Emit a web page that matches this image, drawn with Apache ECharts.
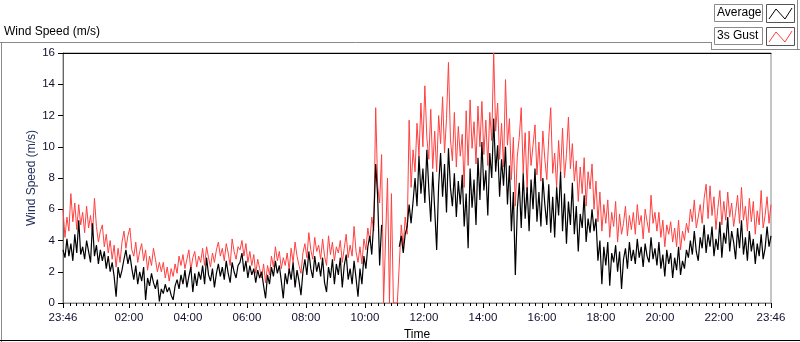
<!DOCTYPE html>
<html>
<head>
<meta charset="utf-8">
<script src="https://cdn.jsdelivr.net/npm/echarts@6/dist/echarts.min.js"></script>
<style>
  html, body { margin: 0; padding: 0; background: #fff; }
  #chart { width: 800px; height: 342px; }
</style>
</head>
<body>
<div id="chart"></div>
<script>
// samples every 4 minutes, starting at 23:46 the previous day (-14 min)
const startMin = -14;
const stepMin = 4;
const seriesNames = ['Average', '3s Gust'];

const average = [
    3.4, 2.9, 4.1, 3.0, 3.8, 2.7, 4.4, 3.2, 5.3, 3.1,
    3.6, 2.8, 4.0, 3.3, 2.6, 5.1, 3.0, 3.7, 2.5, 3.4,
    2.7, 3.3, 2.2, 3.0, 2.0, 2.6, 1.7, 0.4, 2.3, 1.6,
    2.1, 2.8, 3.4, 2.5, 3.1, 2.2, 1.5, 2.4, 1.2, 2.0,
    1.4, 2.3, 0.2, 1.6, 1.1, 1.9, 1.3, 0.9, 1.5, 0.1,
    0.9, 0.6, 1.2, 0.7, 1.0, 0.5, 0.2, 1.1, 1.5, 0.9,
    1.8, 1.2, 2.1, 1.0, 1.7, 2.3, 0.7, 1.9, 1.1, 2.0,
    1.5, 2.4, 1.2, 2.9, 1.8, 1.4, 2.2, 1.0, 1.9, 2.5,
    1.7, 2.3, 1.5, 2.7, 1.9, 1.3, 2.6, 2.0, 1.6, 2.4,
    2.6, 3.2, 2.0, 2.7, 1.6, 2.4, 1.8, 2.2, 1.3, 2.1,
    1.6, 2.0, 1.1, 0.3, 1.8, 1.2, 2.3, 1.7, 2.7, 1.9,
    2.4, 1.4, 0.3, 1.9, 1.2, 2.2, 1.5, 2.6, 1.0, 2.1,
    1.4, 0.5, 2.0, 2.8, 1.8, 3.3, 2.2, 1.6, 3.0, 2.0,
    2.6, 1.7, 2.9, 1.3, 0.7, 2.3, 1.6, 2.8, 1.2, 2.5,
    1.8, 2.9, 1.0, 2.4, 3.1, 1.5, 2.2, 1.2, 2.7, 1.6,
    0.4, 2.2, 1.2, 3.0, 2.2, 3.6, 4.3, 3.1, 5.2, 8.9,
    6.8, 2.4, 5.0, null, null, null, null, null, null, null,
    null, 3.6, 4.3, 3.2, 4.4, 4.9, 6.3, 5.1, 6.5, 8.0,
    6.2, 9.4, 7.0, 8.6, 6.4, 9.8, 7.3, 5.2, 8.4, 6.0,
    3.4, 7.5, 9.6, 6.8, 8.9, 5.8, 9.9, 7.4, 6.2, 8.3,
    5.5, 7.8, 6.3, 8.2, 4.9, 7.0, 3.5, 8.6, 6.1, 7.9,
    5.0, 9.3, 6.6, 10.3, 7.2, 8.5, 5.6, 9.6, 8.0, 11.8,
    8.4, 10.1, 6.8, 9.2, 7.5, 10.0, 6.3, 8.8, 4.6, 7.1,
    1.8, 6.0, 7.7, 4.8, 8.3, 5.4, 7.4, 4.6, 7.9, 6.0,
    8.6, 5.2, 7.1, 4.9, 8.0, 6.3, 5.0, 7.6, 4.5, 6.8,
    4.2, 7.4, 5.6, 8.4, 4.6, 7.0, 3.8, 6.5, 5.0, 7.7,
    4.4, 6.2, 3.3, 5.7, 4.8, 6.9, 3.9, 5.4, 4.5, 6.0,
    4.6, 5.4, 2.7, 4.0, 1.2, 3.6, 2.4, 3.9, 1.1, 3.2,
    2.6, 3.7, 2.0, 3.3, 0.9, 2.8, 3.5, 2.2, 3.9, 2.7,
    3.4, 2.5, 4.1, 2.9, 3.6, 2.3, 3.8, 3.0, 2.6, 4.2,
    2.8, 3.5, 2.4, 3.9, 2.2, 3.1, 1.7, 3.4, 2.5, 3.2,
    1.6, 2.9, 2.1, 3.6, 1.8, 2.7, 2.2, 3.4, 2.9, 4.0,
    3.1, 4.6, 3.3, 2.7, 4.2, 3.5, 5.0, 3.2, 4.4, 3.6,
    4.9, 3.0, 4.1, 3.4, 5.2, 2.9, 4.5, 3.8, 5.5, 3.3,
    4.6, 3.9, 2.8, 4.8, 3.5, 5.3, 3.1, 4.2, 2.7, 4.6,
    3.3, 4.1, 2.5, 3.8, 3.0, 4.4, 2.8, 3.5, 4.9, 3.6, 4.3
];

const gust = [
    6.0, 4.2, 5.5, 4.6, 7.0, 5.2, 6.4, 4.7, 6.3, 5.0,
    5.8, 4.5, 6.2, 4.8, 5.6, 4.4, 6.7, 4.9, 3.9, 4.6,
    5.0, 3.6, 4.4, 3.2, 4.0, 2.8, 3.7, 2.3, 3.5, 2.6,
    3.9, 4.6, 3.5, 4.3, 4.8, 3.4, 3.0, 3.9, 2.6, 3.3,
    3.8, 2.7, 3.4, 2.1, 3.0, 2.4, 3.5, 2.8, 2.0, 2.6,
    2.0, 2.6, 1.6, 2.3, 1.4, 2.2, 1.7, 2.5, 1.9, 3.0,
    2.4, 3.1, 2.2, 2.8, 3.4, 2.1, 2.9, 3.3, 2.3, 3.0,
    2.6, 3.5, 2.4, 3.6, 2.9, 2.3, 3.2, 2.6, 3.4, 3.9,
    3.0, 3.5, 2.7, 3.8, 3.2, 2.4, 4.1, 3.3, 2.8, 3.6,
    3.4, 4.0, 3.0, 3.8, 2.6, 3.3, 2.4, 3.1, 1.9, 2.8,
    2.2, 1.6, 2.5, 1.3, 2.4, 1.8, 3.0, 2.3, 3.6, 2.7,
    3.3, 2.2, 2.9, 2.4, 3.2, 2.1, 3.5, 2.6, 3.9, 3.0,
    2.4, 1.9, 3.2, 3.8, 2.9, 4.5, 3.4, 2.8, 4.2, 3.3,
    3.7, 2.8, 4.1, 3.0, 2.4, 4.3, 3.1, 3.9, 2.7, 3.6,
    3.2, 4.0, 2.6, 3.5, 4.4, 2.9, 3.7, 3.0, 4.9, 3.3,
    2.6, 3.6, 2.5, 4.1, 3.4, 4.8, 3.9, 5.5, 4.6, 12.5,
    7.5, 6.4, 9.5, 0, 0, 8.0, 0, 7.0, 0, 0,
    0, 0, 5.0, 3.6, 5.5, 4.4, 11.7, 7.4, 9.8, 8.4,
    11.5, 9.4, 12.8, 10.0, 13.9, 10.6, 9.2, 12.4, 8.6, 11.0,
    8.4, 12.0, 10.2, 13.2, 9.6, 11.8, 15.4, 10.5, 9.1, 12.2,
    8.7, 11.3, 9.4, 10.8, 7.4, 12.3, 8.8, 13.0, 9.9, 11.6,
    8.9, 12.6, 10.0, 12.9, 9.5, 11.7, 8.8, 12.2, 10.4, 16.0,
    11.0, 12.8, 9.2, 11.5, 8.7, 14.3, 10.1, 11.8, 7.9, 10.6,
    6.2, 9.4, 10.6, 12.5, 8.3, 10.9, 7.2, 11.0, 8.8, 10.1,
    11.4, 8.2, 10.3, 7.8, 11.0, 9.2, 7.9, 10.6, 12.5, 8.3,
    9.6, 7.4, 10.4, 8.3, 11.2, 8.0, 9.5, 11.9, 8.6, 10.2,
    7.8, 9.1, 6.5, 8.7, 7.0, 9.3, 6.2, 8.4, 7.3, 8.9,
    6.0, 7.8, 5.2, 7.1, 4.6, 6.3, 5.1, 6.6, 4.2, 5.8,
    4.9, 6.5, 3.9, 5.7, 4.4, 5.1, 6.2, 4.3, 5.6, 4.7,
    5.8, 4.4, 6.3, 5.0, 5.6, 4.1, 6.0, 5.2, 4.5, 6.9,
    5.1, 5.8, 4.6, 5.8, 4.2, 5.3, 3.6, 5.0, 4.4, 5.2,
    3.9, 4.8, 3.6, 5.3, 3.4, 4.6, 4.0, 5.1, 4.5, 6.0,
    5.2, 6.6, 4.8, 5.5, 6.3, 5.1, 6.7, 7.6, 5.4, 7.5,
    5.6, 6.8, 4.7, 6.1, 7.2, 5.0, 6.5, 5.3, 7.1, 5.5,
    6.4, 4.9, 5.8, 6.9, 5.1, 7.4, 5.3, 6.2, 4.6, 6.7,
    5.2, 6.5, 4.4, 5.9, 5.0, 7.2, 4.8, 5.6, 6.8, 5.1, 6.3
];

// x axis labels: 23:46, 02:00 ... 22:00, 23:46
const labelMinutes = [-14, 120, 240, 360, 480, 600, 720, 840, 960, 1080, 1200, 1320, 1426];

// minor ticks every 2h/9, lined up on 02:00
const minorTicks = [];
for (let k = -10; k <= 98; k++) {
    const m = 120 + k * 40 / 3;
    if (m >= -14 && m <= 1426) minorTicks.push(m);
}

function toPairs(values) {
    return values.map((v, i) => [startMin + i * stepMin, v]);
}

function fmtTime(v) {
    let m = Math.round(v);
    m = ((m % 1440) + 1440) % 1440;
    const h = Math.floor(m / 60);
    const mm = m % 60;
    return String(h).padStart(2, '0') + ':' + String(mm).padStart(2, '0');
}

const FONT = 'Liberation Sans';
const chart = echarts.init(document.getElementById('chart'));

function legendItem(y, name, color) {
    return [
        { type: 'rect', shape: { x: 714.5, y: y + 0.5, width: 48, height: 17 },
          style: { fill: '#fff', stroke: '#8a8a8a', lineWidth: 1 } },
        { type: 'text', x: 717, y: y + 3,
          style: { text: name, font: '12px "' + FONT + '"', fill: '#000' } },
        { type: 'rect', shape: { x: 766.5, y: y + 0.5, width: 28, height: 18 },
          style: { fill: '#fff', stroke: '#555', lineWidth: 1 } },
        { type: 'polyline', shape: { points: [[769, y + 15], [776, y + 5], [785, y + 15], [792, y + 4]] },
          style: { stroke: color, fill: null, lineWidth: 1 } }
    ];
}

chart.setOption({
    animation: false,
    backgroundColor: '#fff',
    grid: {
        left: 63, right: 29, top: 53, bottom: 39,
        outerBoundsMode: 'none', containLabel: false,
        show: true, borderColor: '#8a8a8a', borderWidth: 1
    },
    xAxis: [
        {
            type: 'value', min: -14, max: 1426,
            name: 'Time', nameLocation: 'middle', nameGap: 24,
            nameTextStyle: { color: '#000', fontFamily: FONT, fontSize: 12 },
            axisLine: { show: true, onZero: false, lineStyle: { color: '#8a8a8a' } },
            axisTick: { show: true, customValues: labelMinutes, length: 5, lineStyle: { color: '#000' } },
            axisLabel: { customValues: labelMinutes, formatter: fmtTime, color: '#101030',
                fontFamily: FONT, fontSize: 11.5, margin: 9 },
            splitLine: { show: false }
        },
        {
            type: 'value', min: -14, max: 1426, position: 'bottom',
            axisLine: { show: false, onZero: false },
            axisTick: { show: true, customValues: minorTicks, length: 3, lineStyle: { color: '#000' } },
            axisLabel: { show: false },
            splitLine: { show: false }
        },
        {
            type: 'value', min: -14, max: 1426, position: 'top',
            axisLine: { show: true, onZero: false, lineStyle: { color: '#000' } },
            axisTick: { show: false }, axisLabel: { show: false }, splitLine: { show: false }
        }
    ],
    yAxis: {
        type: 'value', min: 0, max: 16, interval: 2,
        name: 'Wind Speed (m/s)', nameLocation: 'middle', nameGap: 25, nameRotate: 90,
        nameMoveOverlap: false,
        nameTextStyle: { color: '#25325e', fontFamily: FONT, fontSize: 12 },
        axisLine: { show: true, onZero: false, lineStyle: { color: '#666' } },
        axisTick: { show: true, length: 5, lineStyle: { color: '#000' } },
        axisLabel: { color: '#101030', fontFamily: FONT, fontSize: 11.5, margin: 8 },
        splitLine: { show: false }
    },
    series: [
        {
            name: seriesNames[1], type: 'line', data: toPairs(gust),
            showSymbol: false, symbol: 'none', connectNulls: false,
            lineStyle: { color: '#ff4040', width: 1 }, z: 2
        },
        {
            name: seriesNames[0], type: 'line', data: toPairs(average),
            showSymbol: false, symbol: 'none', connectNulls: false,
            lineStyle: { color: '#000', width: 1.2 }, z: 3
        }
    ],
    graphic: [
        { type: 'text', x: 4, y: 26, style: { text: 'Wind Speed (m/s)', font: '12px "' + FONT + '"', fill: '#000' } },
        { type: 'line', shape: { x1: 0, y1: 42.5, x2: 711, y2: 42.5 }, style: { stroke: '#8a8a8a', lineWidth: 1 } },
        { type: 'line', shape: { x1: 1.5, y1: 42, x2: 1.5, y2: 342 }, style: { stroke: '#8a8a8a', lineWidth: 1 } },
        { type: 'line', shape: { x1: 0, y1: 340.5, x2: 800, y2: 340.5 }, style: { stroke: '#000', lineWidth: 1 } },
        { type: 'line', shape: { x1: 711.5, y1: 42, x2: 711.5, y2: 49 }, style: { stroke: '#8a8a8a', lineWidth: 1 } },
        { type: 'line', shape: { x1: 711, y1: 49.5, x2: 800, y2: 49.5 }, style: { stroke: '#8a8a8a', lineWidth: 1 } },
        { type: 'line', shape: { x1: 797.5, y1: 0, x2: 797.5, y2: 50 }, style: { stroke: '#8a8a8a', lineWidth: 1 } },
        ...legendItem(4, seriesNames[0], '#000'),
        ...legendItem(27, seriesNames[1], '#ff4040')
    ]
});
</script>
</body>
</html>
